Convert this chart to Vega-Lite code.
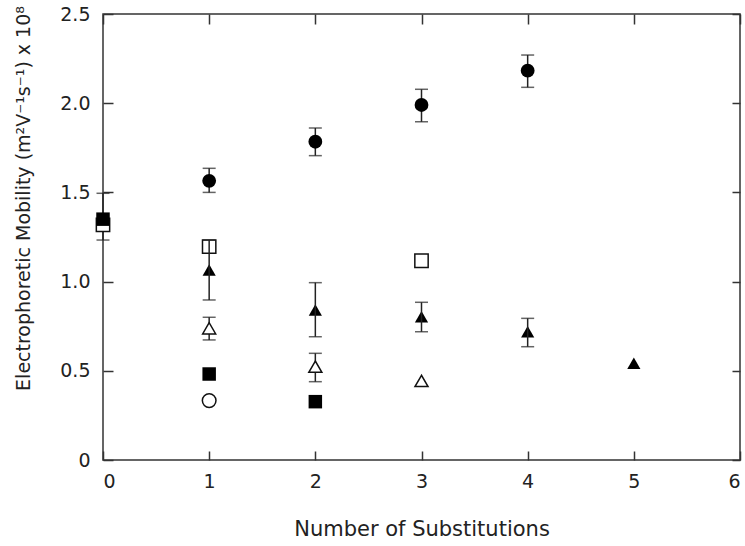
{
  "$schema": "https://vega.github.io/schema/vega-lite/v6.json",
  "autosize": {"type": "none"},
  "padding": {"left": 103, "top": 14, "right": 5, "bottom": 86},
  "width": 637,
  "height": 446,
  "background": "white",
  "config": {
    "view": {"stroke": "#333", "strokeWidth": 1.5},
    "axis": {
      "grid": false,
      "domainColor": "#333",
      "domainWidth": 1.5,
      "tickColor": "#333",
      "tickWidth": 1.5,
      "labelFont": "DejaVu Sans",
      "labelFontSize": 19,
      "labelColor": "#222",
      "titleFont": "DejaVu Sans",
      "titleFontWeight": "normal",
      "titleColor": "#222"
    }
  },
  "data": {
    "values": [
      {"series": "os", "x": 0, "y": 1.318},
      {"series": "fs", "x": 0, "y": 1.35, "ylo": 1.233, "yhi": 1.495},
      {"series": "fc", "x": 1, "y": 1.565, "ylo": 1.5, "yhi": 1.635},
      {"series": "fc", "x": 2, "y": 1.784, "ylo": 1.706, "yhi": 1.861},
      {"series": "fc", "x": 3, "y": 1.99, "ylo": 1.896, "yhi": 2.078},
      {"series": "fc", "x": 4, "y": 2.182, "ylo": 2.089, "yhi": 2.27},
      {"series": "oc", "x": 1, "y": 0.333},
      {"series": "fs", "x": 1, "y": 0.482},
      {"series": "fs", "x": 2, "y": 0.327},
      {"series": "os", "x": 1, "y": 1.196},
      {"series": "os", "x": 3, "y": 1.117},
      {"series": "ft", "x": 1, "y": 1.065, "ylo": 0.897, "yhi": 1.233},
      {"series": "ft", "x": 2, "y": 0.841, "ylo": 0.691, "yhi": 0.994},
      {"series": "ft", "x": 3, "y": 0.803, "ylo": 0.719, "yhi": 0.884},
      {"series": "ft", "x": 4, "y": 0.719, "ylo": 0.635, "yhi": 0.794},
      {"series": "ft", "x": 5, "y": 0.542},
      {"series": "ot", "x": 1, "y": 0.738, "ylo": 0.673, "yhi": 0.8},
      {"series": "ot", "x": 2, "y": 0.523, "ylo": 0.439, "yhi": 0.598},
      {"series": "ot", "x": 3, "y": 0.443}
    ]
  },
  "resolve": {"axis": {"x": "independent", "y": "independent"}},
  "layer": [
    {
      "transform": [{"filter": "datum.series != 'ft' && isValid(datum.ylo)"}],
      "mark": {"type": "rule", "color": "#222", "strokeWidth": 1.5},
      "encoding": {
        "x": {"field": "x", "type": "quantitative", "scale": {"domain": [0, 6], "nice": false},
          "axis": {"orient": "bottom", "offset": -9, "values": [0, 1, 2, 3, 4, 5, 6], "ticks": true, "tickSize": 9, "labelPadding": 12, "domain": false,
            "title": "Number of Substitutions", "titleFontSize": 21, "titlePadding": 27}},
        "y": {"field": "ylo", "type": "quantitative", "scale": {"domain": [0, 2.5], "nice": false},
          "axis": {"orient": "left", "offset": -10, "values": [0, 0.5, 1, 1.5, 2, 2.5], "ticks": true, "tickSize": 10, "labelPadding": 13, "domain": false,
            "labelExpr": "datum.value == 0 ? '0' : format(datum.value, '.1f')",
            "title": "Electrophoretic Mobility (m²V⁻¹s⁻¹) x 10⁸", "titleFontSize": 19, "titleX": -80, "titleY": 184}},
        "y2": {"field": "yhi"}
      }
    },
    {
      "transform": [
        {"filter": "datum.series != 'ft' && isValid(datum.ylo)"},
        {"fold": ["ylo", "yhi"], "as": ["bound", "val"]}
      ],
      "mark": {"type": "tick", "orient": "horizontal", "size": 13, "thickness": 1.5, "color": "#222"},
      "encoding": {
        "x": {"field": "x", "type": "quantitative", "axis": null},
        "y": {"field": "val", "type": "quantitative", "axis": null}
      }
    },
    {
      "transform": [{"filter": "datum.series == 'oc' || datum.series == 'os' || datum.series == 'ot'"}],
      "mark": {"type": "point", "filled": false, "fill": "white", "stroke": "#111", "strokeWidth": 1.5, "opacity": 1},
      "encoding": {
        "x": {"field": "x", "type": "quantitative", "axis": null},
        "y": {"field": "y", "type": "quantitative", "axis": null},
        "shape": {"field": "series", "type": "nominal", "legend": null,
          "scale": {"domain": ["fc", "oc", "fs", "os", "ft", "ot"], "range": ["circle", "circle", "square", "square", "triangle-up", "triangle-up"]}},
        "size": {"field": "series", "type": "nominal", "legend": null,
          "scale": {"domain": ["fc", "oc", "fs", "os", "ft", "ot"], "range": [190, 170, 225, 190, 290, 260]}}
      }
    },
    {
      "transform": [{"filter": "datum.series == 'fc' || datum.series == 'fs' || datum.series == 'ft'"}],
      "mark": {"type": "point", "filled": true, "color": "#000", "opacity": 1},
      "encoding": {
        "x": {"field": "x", "type": "quantitative",
          "axis": {"orient": "bottom", "offset": -446, "values": [0, 1, 2, 3, 4, 5, 6], "ticks": true, "tickSize": 10, "labels": false, "domain": false, "title": null}},
        "y": {"field": "y", "type": "quantitative",
          "axis": {"orient": "left", "offset": -637, "values": [0, 0.5, 1, 1.5, 2, 2.5], "ticks": true, "tickSize": 8, "labels": false, "domain": false, "title": null}},
        "shape": {"field": "series", "type": "nominal", "legend": null},
        "size": {"field": "series", "type": "nominal", "legend": null}
      }
    },
    {
      "transform": [{"filter": "datum.series == 'ft' && isValid(datum.ylo)"}],
      "mark": {"type": "rule", "color": "#222", "strokeWidth": 1.5},
      "encoding": {
        "x": {"field": "x", "type": "quantitative", "axis": null},
        "y": {"field": "ylo", "type": "quantitative", "axis": null},
        "y2": {"field": "yhi"}
      }
    },
    {
      "transform": [
        {"filter": "datum.series == 'ft' && isValid(datum.ylo)"},
        {"fold": ["ylo", "yhi"], "as": ["bound", "val"]}
      ],
      "mark": {"type": "tick", "orient": "horizontal", "size": 13, "thickness": 1.5, "color": "#222"},
      "encoding": {
        "x": {"field": "x", "type": "quantitative", "axis": null},
        "y": {"field": "val", "type": "quantitative", "axis": null}
      }
    }
  ]
}
